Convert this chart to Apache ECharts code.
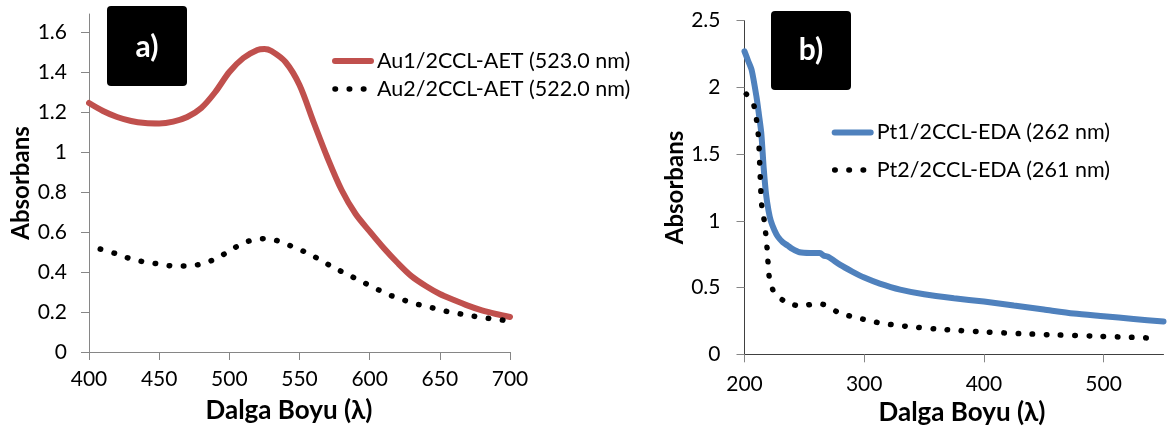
<!DOCTYPE html>
<html>
<head>
<meta charset="utf-8">
<script src="https://cdn.jsdelivr.net/npm/echarts@6/dist/echarts.min.js"></script>
<style>html,body{margin:0;padding:0;background:#fff}#c{width:1167px;height:434px}</style>
</head>
<body>
<div id="c"></div>
<script>
// ---- Panel a) ----
const au1X = [400,410,420,430,440,450,460,470,480,490,500,510,520,525,530,540,550,560,570,580,590,600,610,620,630,640,650,660,670,680,690,700];
const au1Y = [1.245,1.205,1.175,1.155,1.145,1.143,1.152,1.175,1.22,1.30,1.40,1.47,1.51,1.515,1.505,1.45,1.335,1.15,0.97,0.81,0.69,0.603,0.52,0.445,0.378,0.33,0.29,0.26,0.232,0.208,0.19,0.175];
const au2X = [408,420,430,440,450,460,470,480,490,500,510,520,527,535,545,555,565,575,585,595,605,615,625,635,645,655,665,675,685,700];
const au2Y = [0.515,0.49,0.465,0.45,0.44,0.43,0.43,0.44,0.465,0.505,0.545,0.565,0.567,0.555,0.527,0.497,0.46,0.42,0.385,0.35,0.315,0.283,0.258,0.237,0.22,0.203,0.19,0.178,0.168,0.155];
const aYTicks = [0,0.2,0.4,0.6,0.8,1,1.2,1.4,1.6];
const aXTicks = [400,450,500,550,600,650,700];
const aNames = ['Au1/2CCL-AET (523.0 nm)','Au2/2CCL-AET (522.0 nm)'];

// ---- Panel b) ----
const pt1X = [200,203,206,210,212,214,216,218,220,222,225,228,232,236,240,246,255,263,266,270,280,290,300,313,330,350,375,400,425,450,475,500,525,550];
const pt1Y = [2.27,2.2,2.13,1.93,1.80,1.66,1.40,1.20,1.08,1.00,0.93,0.88,0.84,0.815,0.79,0.765,0.76,0.76,0.74,0.73,0.67,0.62,0.575,0.53,0.485,0.45,0.42,0.395,0.365,0.335,0.305,0.285,0.265,0.245];
const pt2X = [201.5,205,208,210,211.5,212.2,212.7,213.2,213.7,214.5,216.5,218,219,219.8,221,225,233,240,246,252,258,265,270,278,290,302,313,325,340,360,380,400,430,460,490,520,545];
const pt2Y = [1.95,1.91,1.86,1.76,1.645,1.54,1.43,1.32,1.215,1.107,1.0,0.88,0.78,0.67,0.56,0.46,0.40,0.375,0.362,0.368,0.377,0.375,0.36,0.315,0.282,0.257,0.235,0.22,0.205,0.19,0.178,0.168,0.155,0.145,0.137,0.128,0.12];
const bYTicks = [0,0.5,1,1.5,2,2.5];
const bXTicks = [200,300,400,500];
const bNames = ['Pt1/2CCL-EDA (262 nm)','Pt2/2CCL-EDA (261 nm)'];

const xTitle = 'Dalga Boyu (λ)';
const yTitle = 'Absorbans';

const pairs = (xs, ys) => xs.map((x, i) => [x, ys[i]]);
const FONT = 'Lato';

function valAxis(opts) {
  return Object.assign({
    type: 'value',
    splitLine: { show: false },
    axisLine: { show: true, lineStyle: { color: opts.lineColor, width: 1 } },
    axisTick: { show: true, inside: false, length: 8, lineStyle: { color: '#868686' }, customValues: opts.ticks },
    axisLabel: { color: '#000', fontFamily: FONT, fontSize: 21, margin: opts.margin, customValues: opts.ticks },
    nameLocation: 'middle',
    nameTextStyle: Object.assign({ color: '#000', fontFamily: FONT, fontSize: opts.nameSize, fontWeight: 'bold' }, opts.nameStyle || {})
  }, opts.extra);
}

const legendCommon = {
  orient: 'vertical', itemWidth: 36, itemHeight: 14,
  itemStyle: { opacity: 0, borderWidth: 0 },
  lineStyle: { width: 'inherit' },
  textStyle: { color: '#000', fontFamily: FONT, fontSize: 21.5, lineHeight: 24, padding: [0, 0, 0, 1] }
};

const chart = echarts.init(document.getElementById('c'), null, { renderer: 'canvas' });
chart.setOption({
  animation: false,
  backgroundColor: '#fff',
  grid: [
    { left: 89, top: 14, width: 421, height: 338 },
    { left: 744.5, top: 20.7, width: 419, height: 333.6 }
  ],
  xAxis: [
    valAxis({ lineColor: '#868686', ticks: aXTicks, margin: 17, nameSize: 26, nameStyle: { padding: [0, 21, 0, 0] },
      extra: { gridIndex: 0, min: 400, max: 700, interval: 50, name: xTitle, nameGap: 46 } }),
    valAxis({ lineColor: '#404040', ticks: bXTicks, margin: 19, nameSize: 26, nameStyle: { padding: [0, 0, 0, 16] },
      extra: { gridIndex: 1, min: 200, max: 550, interval: 100, name: xTitle, nameGap: 43 } })
  ],
  yAxis: [
    valAxis({ lineColor: '#868686', ticks: aYTicks, margin: 22, nameSize: 24,
      extra: { gridIndex: 0, min: 0, max: 1.69, interval: 0.2, name: yTitle, nameGap: 56 } }),
    valAxis({ lineColor: '#404040', ticks: bYTicks, margin: 24, nameSize: 24,
      extra: { gridIndex: 1, min: 0, max: 2.5, interval: 0.5, name: yTitle, nameGap: 56 } })
  ],
  legend: [
    Object.assign({ data: aNames, left: 327, top: 44, itemGap: 4 }, legendCommon),
    Object.assign({ data: bNames, left: 826.7, top: 115.5, itemGap: 13.5 }, legendCommon)
  ],
  series: [
    { name: aNames[0], type: 'line', xAxisIndex: 0, yAxisIndex: 0, data: pairs(au1X, au1Y), showSymbol: false, symbol: 'none',
      smooth: 0.3, color: '#C0504D', lineStyle: { color: '#C0504D', width: 6, cap: 'round' }, z: 2 },
    { name: aNames[1], type: 'line', xAxisIndex: 0, yAxisIndex: 0, data: pairs(au2X, au2Y), showSymbol: false, symbol: 'none',
      smooth: 0.3, color: '#000', lineStyle: { color: '#000', width: 5.5, type: [0.5, 13.7], cap: 'round' }, z: 3 },
    { name: bNames[0], type: 'line', xAxisIndex: 1, yAxisIndex: 1, data: pairs(pt1X, pt1Y), showSymbol: false, symbol: 'none',
      smooth: 0.25, color: '#4F81BD', lineStyle: { color: '#4F81BD', width: 6, cap: 'round' }, z: 2 },
    { name: bNames[1], type: 'line', xAxisIndex: 1, yAxisIndex: 1, data: pairs(pt2X, pt2Y), showSymbol: false, symbol: 'none',
      smooth: 0.25, color: '#000', lineStyle: { color: '#000', width: 5.5, type: [0.5, 13.7], cap: 'round' }, z: 3 }
  ],
  graphic: [
    { type: 'rect', left: 107, top: 6, shape: { width: 80, height: 80, r: 4 }, style: { fill: '#000' }, z: 10 },
    { type: 'text', x: 147, y: 47, style: { text: 'a)', fill: '#fff', font: 'bold 30px Lato', align: 'center', verticalAlign: 'middle' }, z: 11 },
    { type: 'rect', left: 771, top: 11, shape: { width: 80, height: 79, r: 4 }, style: { fill: '#000' }, z: 10 },
    { type: 'text', x: 811, y: 50, style: { text: 'b)', fill: '#fff', font: 'bold 30px Lato', align: 'center', verticalAlign: 'middle' }, z: 11 }
  ]
});
</script>
</body>
</html>
